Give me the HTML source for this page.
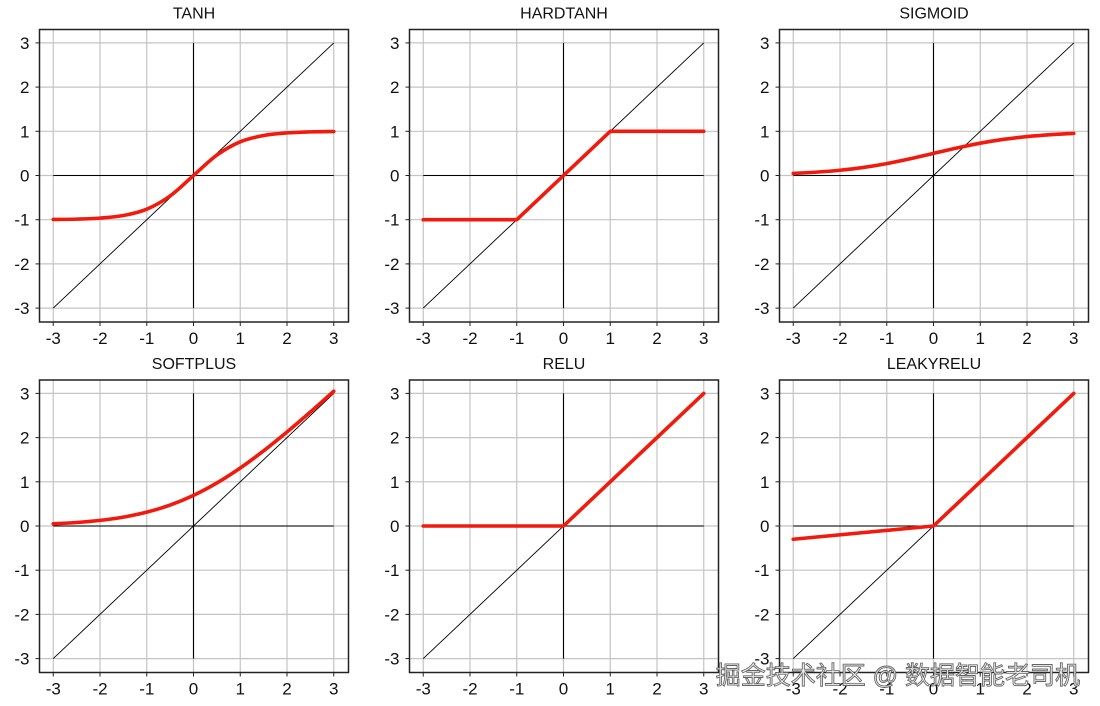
<!DOCTYPE html>
<html><head><meta charset="utf-8">
<style>
html,body{margin:0;padding:0;background:#fff;}
svg{display:block;}
text{font-family:"Liberation Sans","DejaVu Sans",sans-serif;}
.wm{font-family:"Liberation Sans","Noto Sans CJK SC",sans-serif;}
</style></head>
<body>
<svg id="fig" width="1100" height="706" viewBox="0 0 1100 706" xmlns="http://www.w3.org/2000/svg"></svg>
<script>
const titles = ["TANH","HARDTANH","SIGMOID","SOFTPLUS","RELU","LEAKYRELU"];
const ticks = [-3,-2,-1,0,1,2,3];
const tickLabels = ["-3","-2","-1","0","1","2","3"];
const smoothX = [-3,-2.5,-2,-1.5,-1,-0.5,0,0.5,1,1.5,2,2.5,3];
const tanhY = [-0.995,-0.987,-0.964,-0.905,-0.762,-0.462,0,0.462,0.762,0.905,0.964,0.987,0.995];
const sigmoidY = [0.047,0.076,0.119,0.182,0.269,0.378,0.5,0.622,0.731,0.818,0.881,0.924,0.953];
const softplusY = [0.049,0.079,0.127,0.201,0.313,0.474,0.693,0.974,1.313,1.701,2.127,2.579,3.049];
const hardtanhX = [-3,-1,1,3];
const hardtanhY = [-1,-1,1,1];
const reluX = [-3,0,3];
const reluY = [0,0,3];
const leakyX = [-3,0,3];
const leakyY = [-0.3,0,3];
const identX = [-3,3];
const identY = [-3,3];

const series = [
  {x:smoothX,y:tanhY,smooth:true},
  {x:hardtanhX,y:hardtanhY,smooth:false},
  {x:smoothX,y:sigmoidY,smooth:true},
  {x:smoothX,y:softplusY,smooth:true},
  {x:reluX,y:reluY,smooth:false},
  {x:leakyX,y:leakyY,smooth:false}
];

const NS="http://www.w3.org/2000/svg";
const svg=document.getElementById('fig');
function mk(tag,attrs,parent){const e=document.createElementNS(NS,tag);for(const k in attrs)e.setAttribute(k,attrs[k]);(parent||svg).appendChild(e);return e;}

function pathFor(xs,ys,sx,sy,smooth){
  const p=xs.map((x,i)=>[sx(x),sy(ys[i])]);
  if(!smooth) return "M"+p.map(q=>q[0].toFixed(2)+","+q[1].toFixed(2)).join("L");
  let d="M"+p[0][0]+","+p[0][1];
  for(let i=0;i<p.length-1;i++){
    const p0=p[i-1]||p[i],p1=p[i],p2=p[i+1],p3=p[i+2]||p2;
    const c1=[p1[0]+(p2[0]-p0[0])/6,p1[1]+(p2[1]-p0[1])/6];
    const c2=[p2[0]-(p3[0]-p1[0])/6,p2[1]-(p3[1]-p1[1])/6];
    d+="C"+c1[0].toFixed(2)+","+c1[1].toFixed(2)+" "+c2[0].toFixed(2)+","+c2[1].toFixed(2)+" "+p2[0].toFixed(2)+","+p2[1].toFixed(2);
  }
  return d;
}

for(let k=0;k<6;k++){
  const col=k%3,row=Math.floor(k/3);
  const ox=col*370, oy=row*350.5;
  const x0=193.5+ox, y0=175.5+oy;
  const sx=v=>x0+v*46.75;
  const sy=v=>y0-v*44.2;
  const g=mk('g',{});
  
  
  const bx=39.5+ox, by=29.5+oy, bw=309, bh=292.5;
  ticks.forEach(t=>{
    const gv=mk('line',{x1:sx(t),x2:sx(t),y1:by,y2:by+bh,stroke:'#c4c4c4','stroke-width':1.2},g);
    
    
    const gh=mk('line',{x1:bx,x2:bx+bw,y1:sy(t),y2:sy(t),stroke:'#c4c4c4','stroke-width':1.2},g);
    
    
  });
  const ax=mk('line',{x1:sx(-3),x2:sx(3),y1:sy(0),y2:sy(0),stroke:'#000','stroke-width':1.1},g);
  
  
  const ay=mk('line',{x1:sx(0),x2:sx(0),y1:sy(-3),y2:sy(3),stroke:'#000','stroke-width':1.1},g);
  
  
  const id=mk('path',{d:pathFor(identX,identY,sx,sy,false),stroke:'#000','stroke-width':0.9,fill:'none'},g);
  
  
  const s=series[k];
  const c=mk('path',{d:pathFor(s.x,s.y,sx,sy,s.smooth),stroke:'#f21a0c','stroke-width':3.6,fill:'none','stroke-linecap':'round','stroke-linejoin':'round'},g);
  
  
  const box=mk('rect',{x:bx,y:by,width:bw,height:bh,fill:'none',stroke:'#222','stroke-width':1.5},g);
  
  
  ticks.forEach((t,i)=>{
    mk('line',{x1:sx(t),x2:sx(t),y1:by+bh,y2:by+bh+4,stroke:'#222','stroke-width':1},g);
    mk('line',{x1:bx-4,x2:bx,y1:sy(t),y2:sy(t),stroke:'#222','stroke-width':1},g);
    const xl=mk('text',{x:sx(t),y:by+bh+22,'text-anchor':'middle','font-size':17,fill:'#111'},g);
    xl.textContent=tickLabels[i];
    
    
    const yl=mk('text',{x:bx-10,y:sy(t)+6,'text-anchor':'end','font-size':17,fill:'#111'},g);
    yl.textContent=tickLabels[i];
    
    
  });
  const tt=mk('text',{x:bx+bw/2,y:by-11,'text-anchor':'middle','font-size':16,fill:'#111'},g);
  tt.textContent=titles[k];
  
  
}
const wm=mk('text',{x:1080,y:684,'text-anchor':'end','font-size':25,fill:'#f4f4f4',stroke:'#666','stroke-width':0.9,'class':'wm'});
wm.textContent="掘金技术社区 @ 数据智能老司机";


</script>
</body></html>
